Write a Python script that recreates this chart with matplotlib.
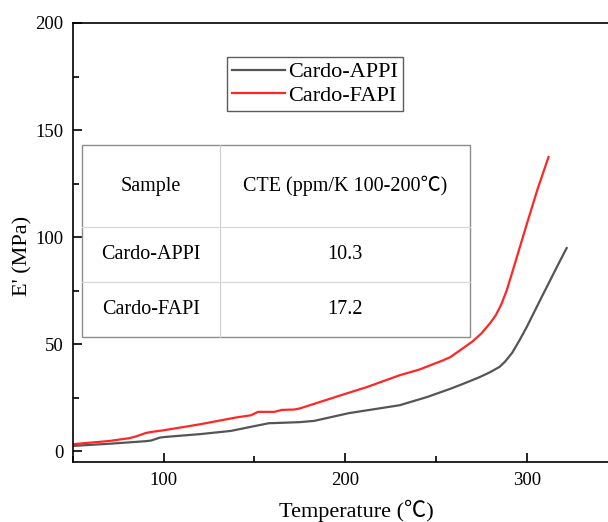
import matplotlib
matplotlib.use("Agg")
import matplotlib.pyplot as plt
from matplotlib.ticker import MultipleLocator
from matplotlib.patches import Rectangle

plt.rcParams['font.family'] = ['Liberation Serif', 'Noto Sans CJK SC']

# storage modulus vs temperature
t_appi = [50, 70, 90, 93, 98, 101, 120, 137, 148, 158, 162, 175, 183, 202, 230, 245,
          258, 265, 274, 280, 285, 288, 292, 296, 300, 304, 308, 312, 317, 322]
e_appi = [2.5, 3.5, 4.7, 5.0, 6.4, 6.7, 8.0, 9.5, 11.4, 13.1, 13.2, 13.6, 14.2, 17.8, 21.5, 25.3,
          29.2, 31.5, 34.6, 37.0, 39.4, 41.8, 46.0, 51.8, 58.0, 64.8, 71.6, 78.3, 86.7, 94.9]

t_fapi = [50, 70, 81, 85, 90, 93, 100, 120, 140, 148, 152, 161, 165, 172, 175, 200, 212,
          230, 241, 254, 258, 263, 270, 275, 280, 283, 286, 289, 292, 300, 306, 312]
e_fapi = [3.3, 4.8, 6.1, 7.0, 8.5, 9.0, 9.8, 12.6, 15.8, 16.8, 18.4, 18.4, 19.3, 19.5, 20.0, 26.8, 30.0,
          35.5, 38.2, 42.5, 44.0, 47.0, 51.2, 55.0, 60.0, 63.6, 68.6, 75.2, 83.5, 106.0, 122.5, 137.4]

table_header = ["Sample", "CTE (ppm/K 100-200℃)"]
table_samples = ["Cardo-APPI", "Cardo-FAPI"]
table_cte = ["10.3", "17.2"]

fig = plt.figure(figsize=(6.08, 5.22), dpi=100)
ax = fig.add_axes([0.120, 0.115, 0.8956, 0.841])

ax.plot(t_appi, e_appi, color='#555555', lw=1.6, label='Cardo-APPI')
ax.plot(t_fapi, e_fapi, color='#ff2626', lw=1.6, label='Cardo-FAPI')

ax.set_xlim(50, 350)
ax.set_ylim(-5, 200)
ax.xaxis.set_major_locator(MultipleLocator(100))
ax.xaxis.set_minor_locator(MultipleLocator(50))
ax.yaxis.set_major_locator(MultipleLocator(50))
ax.yaxis.set_minor_locator(MultipleLocator(25))
ax.tick_params(which='both', direction='in', width=1.2, labelsize=13.5, pad=7)
ax.tick_params(which='major', length=6.5)
ax.tick_params(which='minor', length=4)
for s in ax.spines.values():
    s.set_linewidth(1.2)
ax.spines['right'].set_visible(False)

ax.set_xlabel('Temperature (℃)', fontsize=16)
ax.xaxis.set_label_coords(0.52, -0.085)
ax.set_ylabel("E' (MPa)", fontsize=16)
ax.yaxis.set_label_coords(-0.074, 0.47)

leg = ax.legend(loc='upper left', bbox_to_anchor=(0.283, 0.9226), borderaxespad=0,
                fontsize=16, frameon=True, fancybox=False, handlelength=2.4,
                handletextpad=0.15, labelspacing=0.12, borderpad=0.22)
leg.get_frame().set_edgecolor('#333333')
leg.get_frame().set_linewidth(1.0)

# CTE table drawn in axes coordinates
x0, xdiv, x1 = 0.0165, 0.270, 0.729
rows = [0.722, 0.535, 0.410, 0.285]
tr = ax.transAxes
ax.add_patch(Rectangle((x0, rows[-1]), x1 - x0, rows[0] - rows[-1], transform=tr,
                       facecolor='white', edgecolor='#8c8c8c', lw=1.0, zorder=4))
ax.plot([xdiv, xdiv], [rows[-1], rows[0]], transform=tr, color='#d0d0d0', lw=0.9, zorder=5)
for yy in rows[1:-1]:
    ax.plot([x0, x1], [yy, yy], transform=tr, color='#d8d8d8', lw=0.9, zorder=5)

cells = [table_header] + [[s, c] for s, c in zip(table_samples, table_cte)]
for i, row in enumerate(cells):
    yc = (rows[i] + rows[i + 1]) / 2
    ax.text((x0 + xdiv) / 2, yc, row[0], transform=tr, ha='center', va='center',
            fontsize=14.5, zorder=6)
    ax.text((xdiv + x1) / 2, yc, row[1], transform=tr, ha='center', va='center',
            fontsize=14.5, zorder=6)

fig.savefig('out.png', dpi=100)
